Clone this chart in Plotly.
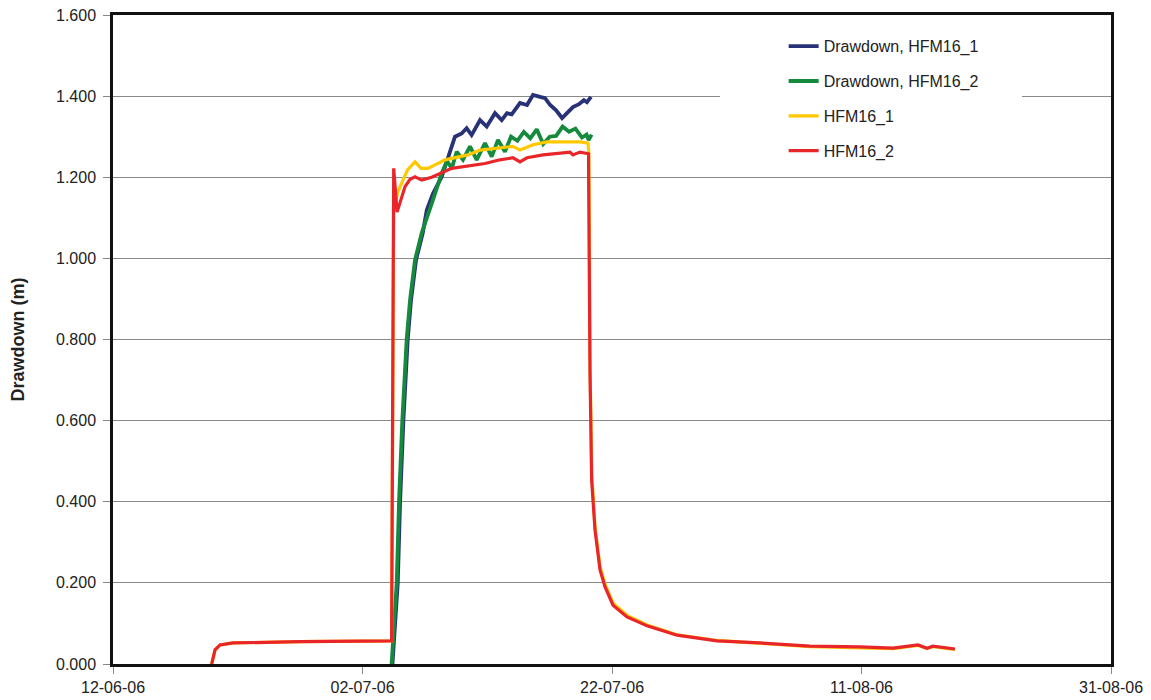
import plotly.graph_objects as go

# ---------------- data ----------------
dd1_time = ["2006-07-04 09:40", "2006-07-04 16:30", "2006-07-04 19:50", "2006-07-05 00:20",
            "2006-07-05 06:40", "2006-07-05 15:00", "2006-07-05 21:20", "2006-07-06 07:00",
            "2006-07-06 20:00", "2006-07-07 03:40", "2006-07-07 15:35", "2006-07-08 08:25",
            "2006-07-08 20:30", "2006-07-09 09:55", "2006-07-09 22:45", "2006-07-10 08:20",
            "2006-07-10 17:55", "2006-07-11 10:05", "2006-07-11 23:00", "2006-07-12 14:55",
            "2006-07-13 03:50", "2006-07-13 14:00", "2006-07-13 23:00", "2006-07-14 15:00",
            "2006-07-15 04:30", "2006-07-15 16:00", "2006-07-16 05:40", "2006-07-16 15:15",
            "2006-07-17 01:00", "2006-07-17 12:30", "2006-07-17 23:55", "2006-07-18 09:30",
            "2006-07-18 20:50", "2006-07-19 08:25", "2006-07-19 18:00", "2006-07-19 23:50",
            "2006-07-20 07:40"]
dd1_value = [0.000, 0.126, 0.200, 0.400,
             0.600, 0.800, 0.897, 0.996,
             1.063, 1.119, 1.160, 1.201,
             1.251, 1.300, 1.308, 1.321,
             1.304, 1.341, 1.325, 1.358,
             1.341, 1.358, 1.355, 1.383,
             1.378, 1.403, 1.398, 1.395,
             1.378, 1.365, 1.346, 1.358,
             1.373, 1.380, 1.390, 1.385,
             1.398]

dd2_time = ["2006-07-04 08:00", "2006-07-04 14:35", "2006-07-04 17:50", "2006-07-04 22:15",
            "2006-07-05 04:35", "2006-07-05 13:00", "2006-07-05 19:25", "2006-07-06 05:00",
            "2006-07-06 18:00", "2006-07-07 15:35", "2006-07-08 08:25", "2006-07-08 18:30",
            "2006-07-09 03:40", "2006-07-09 13:15", "2006-07-10 01:20", "2006-07-10 14:50",
            "2006-07-11 03:40", "2006-07-11 19:40", "2006-07-12 08:35", "2006-07-12 20:40",
            "2006-07-13 10:05", "2006-07-13 21:40", "2006-07-14 10:00", "2006-07-14 22:25",
            "2006-07-15 10:50", "2006-07-15 23:15", "2006-07-16 11:40", "2006-07-17 00:05",
            "2006-07-17 12:30", "2006-07-18 00:55", "2006-07-18 13:20", "2006-07-19 01:45",
            "2006-07-19 14:10", "2006-07-19 23:00", "2006-07-20 03:00", "2006-07-20 08:50"]
dd2_value = [0.000, 0.126, 0.200, 0.400,
             0.600, 0.800, 0.897, 0.996,
             1.063, 1.144, 1.210, 1.240,
             1.222, 1.263, 1.243, 1.276,
             1.243, 1.284, 1.251, 1.292,
             1.263, 1.300, 1.290, 1.312,
             1.296, 1.318, 1.282, 1.300,
             1.302, 1.325, 1.312, 1.320,
             1.298, 1.305, 1.292, 1.305]

h1_time = ["2006-06-19 21:50", "2006-06-20 04:20", "2006-06-20 13:55", "2006-06-21 14:50",
           "2006-06-26 23:45", "2006-07-04 08:00", "2006-07-04 12:00", "2006-07-04 20:20",
           "2006-07-05 14:35", "2006-07-06 05:00", "2006-07-06 16:35", "2006-07-07 06:00",
           "2006-07-08 14:40", "2006-07-10 11:00", "2006-07-11 10:05", "2006-07-13 00:30",
           "2006-07-14 01:30", "2006-07-14 15:00", "2006-07-15 16:00", "2006-07-16 19:00",
           "2006-07-17 19:55", "2006-07-19 10:20", "2006-07-20 01:50", "2006-07-20 03:20",
           "2006-07-20 06:00", "2006-07-20 09:00", "2006-07-20 15:20", "2006-07-21 01:00",
           "2006-07-21 10:35", "2006-07-22 02:00", "2006-07-23 04:50", "2006-07-24 19:25",
           "2006-07-27 05:05", "2006-07-30 10:00", "2006-08-02 20:40", "2006-08-06 20:50",
           "2006-08-10 21:00", "2006-08-13 12:40", "2006-08-15 12:45", "2006-08-16 06:00",
           "2006-08-16 17:30", "2006-08-18 11:50"]
h1_value = [0.000, 0.035, 0.047, 0.052,
            0.055, 0.057, 1.120, 1.165,
            1.218, 1.238, 1.222, 1.222,
            1.243, 1.255, 1.267, 1.272,
            1.276, 1.267, 1.280, 1.287,
            1.287, 1.287, 1.284, 1.262,
            0.720, 0.470, 0.338, 0.240,
            0.197, 0.150, 0.120, 0.096,
            0.072, 0.058, 0.051, 0.043,
            0.040, 0.038, 0.046, 0.038,
            0.043, 0.036]

h2_time = ["2006-06-19 21:50", "2006-06-20 04:20", "2006-06-20 13:55", "2006-06-21 14:50",
           "2006-06-26 23:45", "2006-07-04 08:00", "2006-07-04 12:00", "2006-07-04 18:30",
           "2006-07-05 09:50", "2006-07-05 19:25", "2006-07-06 05:00", "2006-07-06 18:00",
           "2006-07-07 13:10", "2006-07-09 03:40", "2006-07-11 19:40", "2006-07-13 00:30",
           "2006-07-14 01:30", "2006-07-14 15:00", "2006-07-15 04:30", "2006-07-16 11:20",
           "2006-07-18 15:10", "2006-07-18 20:50", "2006-07-19 10:20", "2006-07-19 23:50",
           "2006-07-20 02:50", "2006-07-20 05:40", "2006-07-20 08:50", "2006-07-20 15:20",
           "2006-07-21 01:00", "2006-07-21 10:35", "2006-07-22 02:00", "2006-07-23 04:50",
           "2006-07-24 19:25", "2006-07-27 05:05", "2006-07-30 10:00", "2006-08-02 20:40",
           "2006-08-06 20:50", "2006-08-10 21:00", "2006-08-13 12:40", "2006-08-15 12:45",
           "2006-08-16 06:00", "2006-08-16 17:30", "2006-08-18 11:50"]
h2_value = [0.000, 0.035, 0.047, 0.052,
            0.055, 0.057, 1.222, 1.114,
            1.177, 1.195, 1.201, 1.193,
            1.200, 1.222, 1.234, 1.243,
            1.248, 1.238, 1.248, 1.255,
            1.262, 1.255, 1.262, 1.260,
            1.258, 0.720, 0.454, 0.330,
            0.232, 0.190, 0.145, 0.116,
            0.094, 0.071, 0.057, 0.052,
            0.044, 0.042, 0.039, 0.047,
            0.039, 0.044, 0.037]

series_names = ["Drawdown, HFM16_1", "Drawdown, HFM16_2", "HFM16_1", "HFM16_2"]
series_colors = ["#283276", "#168a3c", "#ffc800", "#e8262a"]
series_widths = [3.8, 3.8, 3.2, 3.2]

x_tick_vals = ["2006-06-12", "2006-07-02", "2006-07-22", "2006-08-11", "2006-08-31"]
x_tick_text = ["12-06-06", "02-07-06", "22-07-06", "11-08-06", "31-08-06"]
y_tick_vals = [0.0, 0.2, 0.4, 0.6, 0.8, 1.0, 1.2, 1.4, 1.6]
y_tick_text = ["0.000", "0.200", "0.400", "0.600", "0.800", "1.000", "1.200", "1.400", "1.600"]

# ---------------- figure ----------------
FONT = "Liberation Sans, Arial, sans-serif"
fig = go.Figure()
all_series = [(dd1_time, dd1_value), (dd2_time, dd2_value), (h1_time, h1_value), (h2_time, h2_value)]
for i, ((t, v), name, col, w) in enumerate(zip(all_series, series_names, series_colors, series_widths)):
    fig.add_trace(go.Scatter(x=t, y=v, mode="lines", name=name, legendgroup=f"g{i}",
                             line=dict(color=col, width=w)))

fig.update_layout(
    width=1151, height=700,
    margin=dict(l=113, r=40, t=15, b=36),
    paper_bgcolor="white", plot_bgcolor="white",
    font=dict(family=FONT, size=16, color="#222222"),
    showlegend=True,
    legend=dict(x=0.672, y=0.978, xanchor="left", yanchor="top",
                bgcolor="rgba(0,0,0,0)", borderwidth=0,
                font=dict(family=FONT, size=16, color="#222222"),
                traceorder="grouped", tracegroupgap=11),
    shapes=[dict(type="rect", xref="paper", yref="paper",
                 x0=(720 - 113) / 998, x1=(1022 - 113) / 998,
                 y0=(664 - 170) / 649, y1=(664 - 30) / 649,
                 fillcolor="white", line=dict(width=0), layer="above")],
    xaxis=dict(type="date", range=["2006-06-12", "2006-08-31"],
               tickvals=x_tick_vals, ticktext=x_tick_text,
               showgrid=False, zeroline=False, automargin=False,
               showline=True, linecolor="#111111", linewidth=2.5, mirror=True,
               ticks="outside", ticklen=7, tickcolor="#888888", tickwidth=1,
               tickfont=dict(size=16)),
    yaxis=dict(range=[0, 1.6], tickvals=y_tick_vals, ticktext=y_tick_text,
               showgrid=True, gridcolor="#8a8a8a", gridwidth=1, zeroline=False,
               automargin=False,
               showline=True, linecolor="#111111", linewidth=2.5, mirror=True,
               ticks="outside", ticklen=7, tickcolor="#888888", tickwidth=1,
               ticklabelstandoff=4,
               tickfont=dict(size=16),
               title=dict(text="<b>Drawdown (m)</b>", font=dict(size=18, family=FONT, color="#222222"),
                          standoff=27)),
)

fig.write_html("out.html", config={"displayModeBar": False},
               post_script="document.body.style.margin='0';")
